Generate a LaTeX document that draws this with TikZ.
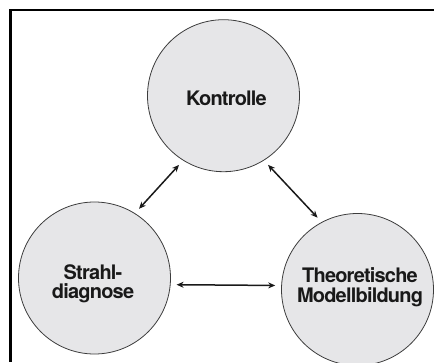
\documentclass[tikz,border=0pt]{standalone}
\usepackage{fontspec}
\setmainfont{TeX Gyre Heros}[LetterSpace=-4]
\usetikzlibrary{arrows.meta}
\definecolor{discfill}{RGB}{230,230,232}
\definecolor{ink}{RGB}{25,25,25}
\begin{document}
\begin{tikzpicture}[x=1pt,y=-1pt,
  disc/.style={circle, draw=ink!85, line width=0.8pt, fill=discfill, minimum size=152pt, inner sep=0pt},
  lbl/.style={text=ink, font=\fontsize{20}{19.5}\selectfont\bfseries, align=center, inner sep=0pt},
  link/.style={ink, line width=1.5pt, {Stealth[length=7pt,width=6pt]}-{Stealth[length=7pt,width=6pt]}, shorten <=6pt, shorten >=6pt},
  frame/.style={black, line width=2.8pt}]
\useasboundingbox (0,0) rectangle (434,362);
\draw[frame] (434,10) -- (10.5,10) -- (10.5,362);
\node[disc] (top) at (223.5,95.7) {};
\node[disc] (left) at (94.5,278) {};
\node[disc] (right) at (357.5,289.5) {};
\node[lbl] (ttop) at (226.5,98) {Kontrolle};
\node[lbl] (tleft) at (93,284) {Strahl-\\diagnose};
\node[lbl] (tright) at (360,287) {Theoretische\\Modellbildung};
\draw[link] (top.238) -- (left.58);
\draw[link] (top.302) -- (right.118);
\draw[link] (left.-5) -- (right.177);
\end{tikzpicture}
\end{document}
